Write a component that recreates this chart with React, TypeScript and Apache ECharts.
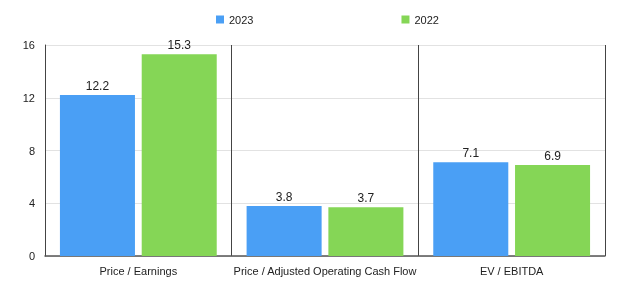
import React, { useEffect, useRef } from "react";
import * as echarts from "echarts";

const categories = ["Price / Earnings", "Price / Adjusted Operating Cash Flow", "EV / EBITDA"];
const values2023 = [12.2, 3.8, 7.1];
const values2022 = [15.3, 3.7, 6.9];
const seriesNames = ["2023", "2022"];

const FONT = "'Liberation Sans', Arial, Helvetica, sans-serif";

export default function App() {
  const ref = useRef<HTMLDivElement>(null);

  useEffect(() => {
    if (!ref.current) return;
    const chart = echarts.init(ref.current, null, { renderer: "svg" });
    const label = {
      show: true,
      position: "top" as const,
      distance: 3,
      color: "#222",
      fontSize: 12,
      fontFamily: FONT,
      formatter: (p: any) => Number(p.value).toFixed(1),
    };
    chart.setOption({
      animation: false,
      textStyle: { fontFamily: FONT },
      legend: {
        left: 211,
        top: 9,
        itemWidth: 8,
        itemHeight: 8,
        itemGap: 148,
        icon: "rect",
        textStyle: { fontSize: 11, color: "#222", fontFamily: FONT },
        data: seriesNames,
      },
      grid: { left: 45, right: 35, top: 45, bottom: 48, containLabel: false },
      xAxis: {
        type: "category",
        data: categories,
        axisLine: { show: true, lineStyle: { color: "#555", width: 1.5 } },
        axisTick: { show: false },
        splitLine: { show: true, interval: 0, lineStyle: { color: "#444", width: 1 } },
        axisLabel: { interval: 0, color: "#222", fontSize: 11, margin: 9, fontFamily: FONT },
      },
      yAxis: {
        type: "value",
        min: 0,
        max: 16,
        interval: 4,
        axisLine: { show: true, lineStyle: { color: "#444", width: 1 } },
        axisTick: { show: false },
        splitLine: { show: true, lineStyle: { color: "#e2e2e2", width: 1 } },
        axisLabel: { color: "#222", fontSize: 11, margin: 10, fontFamily: FONT },
      },
      series: [
        {
          name: seriesNames[0],
          type: "bar",
          data: values2023,
          barGap: "9%",
          barCategoryGap: "16%",
          itemStyle: { color: "#4a9ff5" },
          label,
        },
        {
          name: seriesNames[1],
          type: "bar",
          data: values2022,
          itemStyle: { color: "#85d656" },
          label,
        },
      ],
    });
    return () => chart.dispose();
  }, []);

  return (
    <div
      ref={ref}
      style={{ position: "fixed", left: 0, top: 0, width: 640, height: 304 }}
    />
  );
}
